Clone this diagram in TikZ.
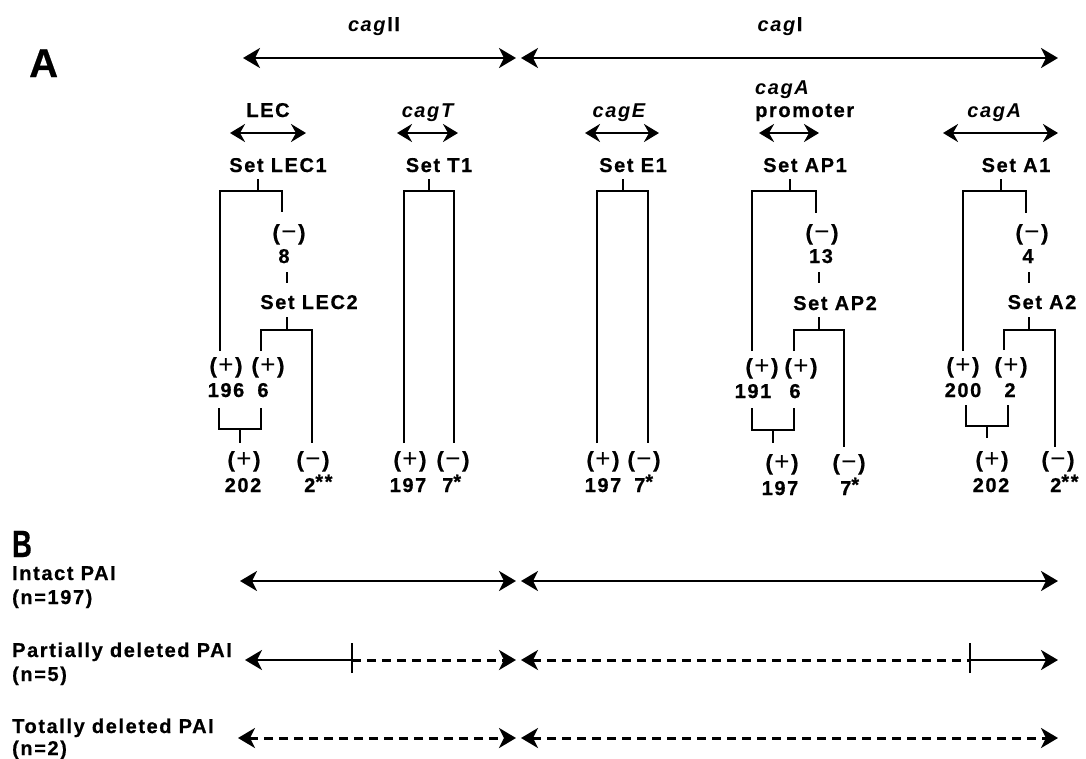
\documentclass[tikz,border=0pt]{standalone}
\usepackage{fontspec}
\newfontfamily\lab{Liberation Sans}[LetterSpace=8, BoldFeatures={FakeBold=0.6}]
\usetikzlibrary{arrows.meta}
\newcommand\pls{{\fontsize{22}{22}\selectfont(\kern1.5pt{\mdseries\fontsize{26}{26}\selectfont+}\kern1.5pt)}}
\newcommand\mns{{\fontsize{22}{22}\selectfont(\kern1.5pt{\mdseries\fontsize{26}{26}\selectfont −}\kern1.5pt)}}
\newcommand\sst[1]{\raisebox{3.5pt}{#1}}
\begin{document}
\begin{tikzpicture}[x=1pt,y=-1pt,
  t/.style={font={\lab\bfseries\fontsize{20}{23}\selectfont}, inner sep=0pt, anchor=base},
  tw/.style={t, anchor=base west},
  tree/.style={line width=1.5pt},
  >={Stealth[length=17pt,width=20pt,inset=5pt]},
  big/.style={line width=2.8pt},
  small/.style={line width=2.6pt, arrows={Stealth[length=15pt,width=18pt,inset=5pt]-Stealth[length=15pt,width=18pt,inset=5pt]}},
  dsh/.style={dash pattern=on 9pt off 6pt, line width=3pt}]
\fill[white] (0,0) rectangle (1086,758);
\useasboundingbox (0,0) rectangle (1086,758);

% ---------- Part A ----------
\node[t, anchor=base west, font={\lab\bfseries\fontsize{40}{40}\selectfont}] (lblA) at (29,77) {A};
\node[t] (cagII) at (374,31) {\textit{cag}II};
\node[t] (cagI) at (780,31) {\textit{cag}I};
\coordinate (c2L) at (243,58); \coordinate (c2R) at (516,58);
\coordinate (c1L) at (521,58); \coordinate (c1R) at (1058,58);
\draw[big,<->] (c2L) -- (c2R);
\draw[big,<->] (c1L) -- (c1R);

\node[t] (lec) at (268,117) {LEC};
\node[t] (cagT) at (429,117) {\textit{cagT}};
\node[t] (cagE) at (620,117) {\textit{cagE}};
\node[tw] (cagAp) at (755,94) {\textit{cagA}};
\node[tw] (prom) at (755,117) {promoter};
\node[t] (cagA) at (995,117) {\textit{cagA}};

\coordinate (lecL) at (230,133); \coordinate (lecR) at (306,133);
\coordinate (tL) at (397,133); \coordinate (tR) at (458,133);
\coordinate (eL) at (585,133); \coordinate (eR) at (659,133);
\coordinate (pL) at (759,133); \coordinate (pR) at (819,133);
\coordinate (aL) at (943,133); \coordinate (aR) at (1058,133);
\draw[small] (lecL) -- (lecR);
\draw[small] (tL) -- (tR);
\draw[small] (eL) -- (eR);
\draw[small] (pL) -- (pR);
\draw[small] (aL) -- (aR);

\node[t] (lec1) at (278,172) {Set LEC1};
\node[t] (t1) at (439,172) {Set T1};
\node[t] (e1) at (633,172) {Set E1};
\node[t] (ap1) at (805,172) {Set AP1};
\node[t] (a1) at (1016,172) {Set A1};

% LEC tree
\draw[tree] (258,179) -- (258,191);
\draw[tree] (220,351) -- (220,191) -- (282,191) -- (282,212);
\node[t] (lecm) at (289,240) {\mns};
\node[t] (lec8) at (284,263) {8};
\draw[tree] (287,272) -- (287,283);
\node[t] (lec2) at (309,309) {Set LEC2};
\draw[tree] (287,317) -- (287,330);
\draw[tree] (261,351) -- (261,330) -- (312,330) -- (312,443);
\node[t] (lp1) at (226,373) {\pls};
\node[t] (lp2) at (268,373) {\pls};
\node[t] (l196) at (226,397) {196};
\node[t] (l6) at (263,397) {6};
\draw[tree] (219,408) -- (219,429) -- (261,429) -- (261,408);
\draw[tree] (240,429) -- (240,443);
\node[t] (lp3) at (244,467) {\pls};
\node[t] (l202) at (243,492) {202};
\node[t] (lm3) at (313,467) {\mns};
\node[tw] (l2) at (304,492) {2\sst{**}};

% T1 tree
\draw[tree] (429,179) -- (429,191);
\draw[tree] (404,443) -- (404,191) -- (454,191) -- (454,443);
\node[t] (tp) at (410,467) {\pls};
\node[t] (tm) at (453,467) {\mns};
\node[t] (t197) at (408,492) {197};
\node[tw] (t7) at (442,492) {7\sst{*}};

% E1 tree
\draw[tree] (623,179) -- (623,191);
\draw[tree] (597,443) -- (597,191) -- (648,191) -- (648,443);
\node[t] (ep) at (603,467) {\pls};
\node[t] (em) at (644,467) {\mns};
\node[t] (e197) at (603,492) {197};
\node[tw] (e7) at (634,492) {7\sst{*}};

% AP tree
\draw[tree] (790,179) -- (790,191);
\draw[tree] (752,351) -- (752,191) -- (816,191) -- (816,213);
\node[t] (apm) at (822,240) {\mns};
\node[t] (ap13) at (821,263) {13};
\draw[tree] (819,272) -- (819,283);
\node[t] (ap2) at (835,310) {Set AP2};
\draw[tree] (819,317) -- (819,330);
\draw[tree] (794,351) -- (794,330) -- (844,330) -- (844,447);
\node[t] (app1) at (762,374) {\pls};
\node[t] (app2) at (801,374) {\pls};
\node[t] (ap191) at (753,398) {191};
\node[t] (ap6) at (795,398) {6};
\draw[tree] (752,408) -- (752,430) -- (794,430) -- (794,408);
\draw[tree] (773,430) -- (773,443);
\node[t] (app3) at (782,470) {\pls};
\node[t] (ap197) at (780,495) {197};
\node[t] (apm3) at (849,470) {\mns};
\node[tw] (ap7) at (840,495) {7\sst{*}};

% A tree
\draw[tree] (1001,179) -- (1001,191);
\draw[tree] (963,351) -- (963,191) -- (1026,191) -- (1026,213);
\node[t] (am) at (1032,240) {\mns};
\node[t] (a4) at (1028,263) {4};
\draw[tree] (1029,272) -- (1029,283);
\node[t] (a2) at (1042,309) {Set A2};
\draw[tree] (1029,317) -- (1029,330);
\draw[tree] (1004,350) -- (1004,330) -- (1055,330) -- (1055,447);
\node[t] (ap1a) at (963,373) {\pls};
\node[t] (ap2a) at (1011,373) {\pls};
\node[t] (a200) at (963,397) {200};
\node[t] (a2n) at (1010,397) {2};
\draw[tree] (966,405) -- (966,426) -- (1008,426) -- (1008,405);
\draw[tree] (987,426) -- (987,438);
\node[t] (ap3a) at (992,467) {\pls};
\node[t] (a202) at (991,492) {202};
\node[t] (am3) at (1058,467) {\mns};
\node[tw] (a2s) at (1050,492) {2\sst{**}};

% ---------- Part B ----------
\node[tw, font={\lab\bfseries\fontsize{38}{38}\selectfont}, xscale=0.72] (lblB) at (12,557) {B};
\node[tw] (intact) at (12,580) {Intact PAI};
\node[tw] (n197) at (12,604) {(n=197)};
\node[tw] (partial) at (12,657) {Partially deleted PAI};
\node[tw] (n5) at (12,681) {(n=5)};
\node[tw] (total) at (12,733) {Totally deleted PAI};
\node[tw] (n2) at (12,755) {(n=2)};

% row 1
\coordinate (r1a) at (240,581); \coordinate (r1b) at (516,581);
\coordinate (r1c) at (521,581); \coordinate (r1d) at (1058,581);
\draw[big,<->] (r1a) -- (r1b);
\draw[big,<->] (r1c) -- (r1d);

% row 2
\coordinate (r2a) at (245,660); \coordinate (r2t1) at (352,660);
\coordinate (r2b) at (516,660); \coordinate (r2c) at (521,660);
\coordinate (r2t2) at (970,660); \coordinate (r2d) at (1058,660);
\draw[big,<-] (r2a) -- (r2t1);
\draw[line width=2pt] ([yshift=-13pt]r2t1) -- ([yshift=17pt]r2t1);
\draw[big,dsh,->] (r2t1) -- (r2b);
\draw[big,dsh,<-] (r2c) -- (r2t2);
\draw[line width=2pt] ([yshift=-13pt]r2t2) -- ([yshift=17pt]r2t2);
\draw[big,->] (r2t2) -- (r2d);

% row 3
\coordinate (r3a) at (238,738); \coordinate (r3b) at (516,738);
\coordinate (r3c) at (521,738); \coordinate (r3d) at (1058,738);
\draw[big,dsh,<->] (r3a) -- (r3b);
\draw[big,dsh,<->] (r3c) -- (r3d);
\end{tikzpicture}
\end{document}
